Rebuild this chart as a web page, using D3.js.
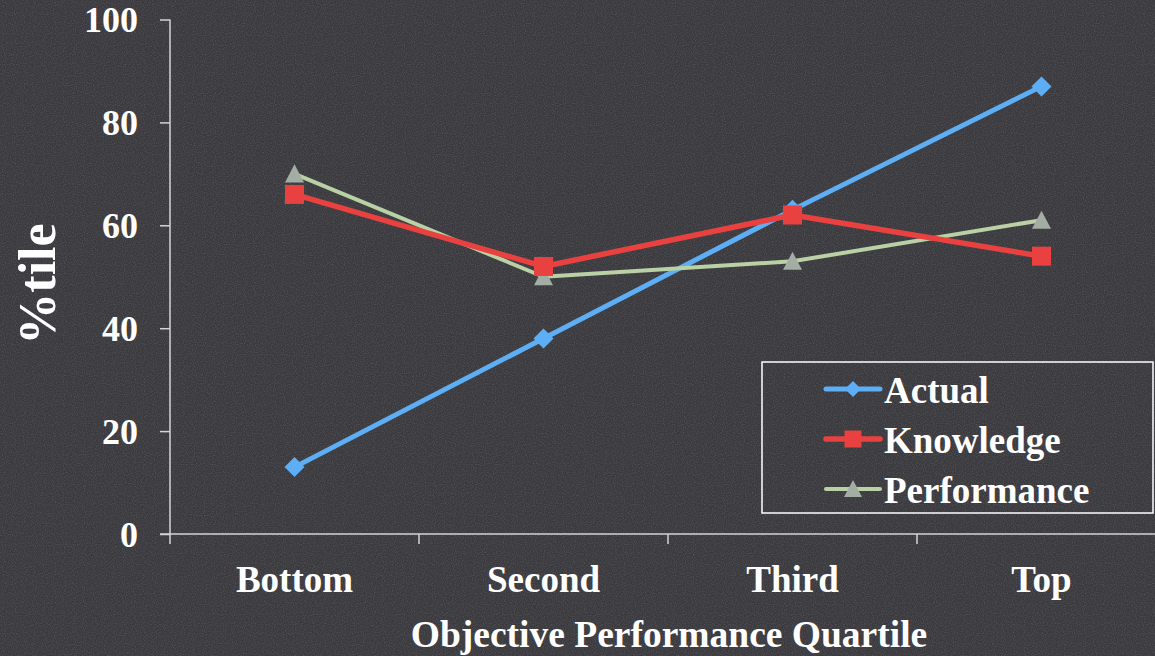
<!DOCTYPE html>
<html>
<head>
<meta charset="utf-8">
<script src="https://cdn.jsdelivr.net/npm/d3@7"></script>
<style>
  html, body { margin: 0; padding: 0; background: #3a3a3e; overflow: hidden; }
  svg { display: block; }
</style>
</head>
<body>
<svg id="chart" width="1155" height="656"></svg>
<script>
// Chart data
const categories = ["Bottom", "Second", "Third", "Top"];
const actual = [13, 38, 63, 87];
const knowledge = [66, 52, 62, 54];
const performance = [70, 50, 53, 61];
const yTicks = [0, 20, 40, 60, 80, 100];
const seriesNames = ["Actual", "Knowledge", "Performance"];

const W = 1155, H = 656;
const FONT = "'Liberation Serif', 'Times New Roman', Times, serif";
const svg = d3.select("#chart");

// Textured dark backdrop
const defs = svg.append("defs");
const f = defs.append("filter").attr("id", "grain").attr("x", 0).attr("y", 0).attr("width", "100%").attr("height", "100%");
f.append("feTurbulence").attr("type", "fractalNoise").attr("baseFrequency", 0.9).attr("numOctaves", 1).attr("seed", 3).attr("result", "n");
f.append("feColorMatrix").attr("in", "n").attr("type", "matrix")
  .attr("values", "0 0 0 0 0.13  0 0 0 0 0.13  0 0 0 0 0.15  0 0 0 -2.2 1.25");
svg.append("rect").attr("width", W).attr("height", H).attr("fill", "#3b3b3f");
svg.append("rect").attr("width", W).attr("height", H).attr("filter", "url(#grain)").attr("opacity", 0.6);

const x = d3.scaleBand().domain(categories).range([170, 1166]);
const y = d3.scaleLinear().domain([0, 100]).range([534, 19.5]);

const axisColor = "#d4d4d4";

// Y axis
const yAxis = svg.append("g").attr("transform", `translate(${x.range()[0]},0)`)
  .call(d3.axisLeft(y).tickValues(yTicks).tickSize(10).tickPadding(22).tickFormat(d3.format("d")));
yAxis.select(".domain").attr("stroke", axisColor).attr("stroke-width", 1.5).attr("d", `M0,${y(100)}V${y(0)}`);
yAxis.selectAll(".tick line").attr("stroke", axisColor).attr("stroke-width", 1.5);
yAxis.selectAll(".tick text").attr("fill", "#ffffff").attr("font-family", FONT)
  .attr("font-weight", "bold").attr("font-size", 36).attr("dy", "0.34em");

// X axis: line runs to the right edge, ticks at category boundaries
const xg = svg.append("g").attr("transform", `translate(0,${y(0)})`);
xg.append("line").attr("x1", 160).attr("x2", W).attr("y1", 0).attr("y2", 0)
  .attr("stroke", axisColor).attr("stroke-width", 1.5);
const bounds = categories.map(c => x(c));
xg.selectAll("line.tk").data(bounds).join("line").attr("class", "tk")
  .attr("x1", d => d).attr("x2", d => d).attr("y1", 0).attr("y2", 10)
  .attr("stroke", axisColor).attr("stroke-width", 1.5);
xg.selectAll("text.cat").data(categories).join("text").attr("class", "cat")
  .attr("x", d => x(d) + x.bandwidth() / 2).attr("y", 58)
  .attr("text-anchor", "middle").attr("fill", "#ffffff").attr("font-family", FONT)
  .attr("font-weight", "bold").attr("font-size", 37).text(d => d);

// Axis titles
svg.append("text").attr("x", 669).attr("y", 647).attr("text-anchor", "middle")
  .attr("fill", "#ffffff").attr("font-family", FONT).attr("font-weight", "bold").attr("font-size", 37.5)
  .text("Objective Performance Quartile");
svg.append("text").attr("transform", "translate(55,284) rotate(-90)").attr("text-anchor", "middle")
  .attr("fill", "#ffffff").attr("font-family", FONT).attr("font-weight", "bold").attr("font-size", 52)
  .text("%tile");

// Marker shapes (centred on the data point)
const markerPath = {
  diamond: r => `M0,${-r}L${r},0L0,${r}L${-r},0Z`,
  square: r => `M${-r},${-r}H${r}V${r}H${-r}Z`,
  triangle: r => `M0,${-r}L${r},${r * 0.9}H${-r}Z`
};

// Series
const series = [
  { name: seriesNames[0], values: actual, line: "#5eaef5", fill: "#5eaef5", width: 5, marker: "diamond", r: 10, lr: 8 },
  { name: seriesNames[1], values: knowledge, line: "#e8413f", fill: "#e8413f", width: 5.5, marker: "square", r: 9.5, lr: 8.5 },
  { name: seriesNames[2], values: performance, line: "#b9d1a4", fill: "#a3ada3", width: 4, marker: "triangle", r: 9.5, lr: 9 }
];
const cx = c => x(c) + x.bandwidth() / 2;
const lineGen = d3.line().x((d, i) => cx(categories[i])).y(d => y(d));

const drawOrder = [series[0], series[2], series[1]];
drawOrder.forEach(s => {
  svg.append("path").datum(s.values).attr("d", lineGen)
    .attr("fill", "none").attr("stroke", s.line).attr("stroke-width", s.width).attr("stroke-linejoin", "round");
});
drawOrder.forEach(s => {
  svg.append("g").selectAll("path").data(s.values).join("path")
    .attr("d", markerPath[s.marker](s.r))
    .attr("transform", (d, i) => `translate(${cx(categories[i])},${y(d)})`)
    .attr("fill", s.fill);
});

// Legend
const lg = svg.append("g");
lg.append("rect").attr("x", 762).attr("y", 362).attr("width", 391).attr("height", 151)
  .attr("fill", "none").attr("stroke", "#ffffff").attr("stroke-width", 1.5);
series.forEach((s, i) => {
  const ly = 389 + i * 50;
  lg.append("line").attr("x1", 826).attr("x2", 880).attr("y1", ly).attr("y2", ly)
    .attr("stroke", s.line).attr("stroke-width", s.width).attr("stroke-linecap", "round");
  lg.append("path").attr("d", markerPath[s.marker](s.lr))
    .attr("transform", `translate(853,${ly})`).attr("fill", s.fill);
  lg.append("text").attr("x", 884).attr("y", ly + 14).attr("fill", "#ffffff")
    .attr("font-family", FONT).attr("font-weight", "bold").attr("font-size", 37).text(s.name);
});
</script>
</body>
</html>
